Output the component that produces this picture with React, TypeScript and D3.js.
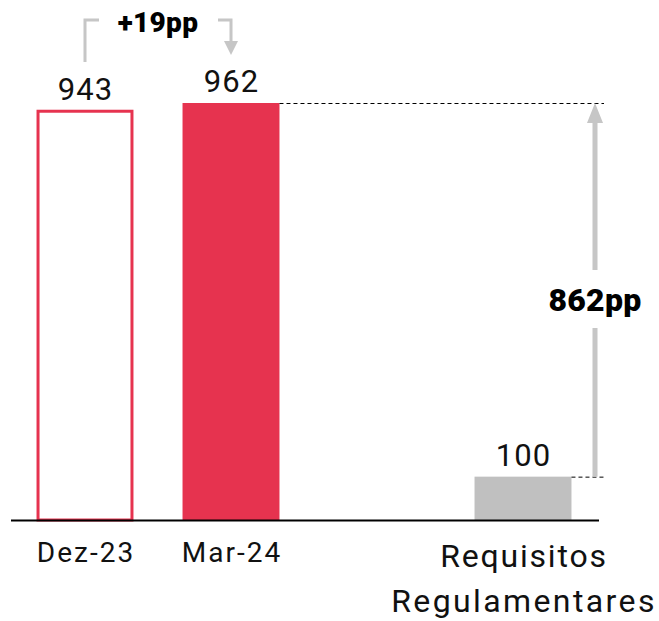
import React from "react";
import * as d3 from "d3";

const categories = ["Dez-23", "Mar-24", "", "Requisitos Regulamentares"];
const values = [943, 962, null, 100];
const valueLabels = ["943", "962", "", "100"];
const deltaLabel = "+19pp";
const gapLabel = "862pp";

const W = 659;
const H = 621;
const RED = "#e6334f";
const GREY_BAR = "#c0c0c0";
const GREY_LINE = "#c6c6c6";
const FONT = "Roboto, 'Open Sans', sans-serif";

export default function App() {
  const x = d3
    .scaleBand<string>()
    .domain(categories.map((c, i) => String(i)))
    .range([12, 596])
    .paddingInner(0.336)
    .paddingOuter(0.168);
  const y = d3.scaleLinear().domain([0, 962]).range([520, 103]);
  const bw = x.bandwidth();
  const cx = (i: number) => (x(String(i)) as number) + bw / 2;

  const arrowX = 595;
  const topY = y(values[1] as number);
  const reqY = y(values[3] as number);
  const c0 = cx(0);
  const c1 = cx(1);

  return (
    <svg
      width={W}
      height={H}
      style={{ position: "absolute", left: 0, top: 0 }}
      fontFamily={FONT}
    >
      {/* bars */}
      {values.map((v, i) => {
        if (v == null) return null;
        const x0 = x(String(i)) as number;
        if (i === 0)
          return (
            <rect
              key={i}
              x={x0 + 1.5}
              y={y(v)}
              width={bw - 3}
              height={y(0) - y(v)}
              fill="none"
              stroke={RED}
              strokeWidth={3}
            />
          );
        return (
          <rect
            key={i}
            x={x0}
            y={y(v)}
            width={bw}
            height={y(0) - y(v)}
            fill={i === 1 ? RED : GREY_BAR}
          />
        );
      })}
      {/* baseline */}
      <line x1={11} x2={599} y1={520.5} y2={520.5} stroke="#000" strokeWidth={1.8} />

      {/* value labels */}
      {values.map((v, i) =>
        v == null ? null : (
          <text
            key={"v" + i}
            x={cx(i) + 0.5}
            y={y(v) - 11}
            textAnchor="middle"
            fontSize={31}
            letterSpacing={1}
            fill="#111"
          >
            {valueLabels[i]}
          </text>
        )
      )}

      {/* category labels */}
      <text x={c0 + 1} y={562} textAnchor="middle" fontSize={28} letterSpacing={2} fill="#111">
        {categories[0]}
      </text>
      <text x={c1 + 1} y={562} textAnchor="middle" fontSize={28} letterSpacing={2} fill="#111">
        {categories[1]}
      </text>
      <text x={cx(3) + 1} y={567} textAnchor="middle" fontSize={32} letterSpacing={1.8} fill="#111">
        {categories[3].split(" ")[0]}
      </text>
      <text x={cx(3) + 1} y={612} textAnchor="middle" fontSize={32} letterSpacing={2.4} fill="#111">
        {categories[3].split(" ")[1]}
      </text>

      {/* dashed guides */}
      <line
        x1={(x("1") as number) + bw}
        x2={604}
        y1={topY + 0.5}
        y2={topY + 0.5}
        stroke="#000"
        strokeWidth={1}
        strokeDasharray="4,3"
      />
      <line
        x1={(x("3") as number) + bw}
        x2={604}
        y1={reqY + 0.5}
        y2={reqY + 0.5}
        stroke="#000"
        strokeWidth={1}
        strokeDasharray="4,3"
      />

      {/* vertical arrow */}
      <line x1={arrowX} x2={arrowX} y1={reqY} y2={328} stroke={GREY_LINE} strokeWidth={5} />
      <line x1={arrowX} x2={arrowX} y1={270} y2={120} stroke={GREY_LINE} strokeWidth={5} />
      <path
        d={`M${arrowX},${topY} L${arrowX + 8},${topY + 20} L${arrowX - 8},${topY + 20} Z`}
        fill={GREY_LINE}
      />
      <text
        x={arrowX}
        y={311}
        textAnchor="middle"
        fontSize={32}
        fontWeight={900}
        letterSpacing={0.3}
        fill="#000"
      >
        {gapLabel}
      </text>

      {/* bracket delta */}
      <path
        d={`M${c0},62 L${c0},20 L${c0 + 14},20`}
        fill="none"
        stroke={GREY_LINE}
        strokeWidth={3}
      />
      <path
        d={`M${c1 - 13},20 L${c1},20 L${c1},43`}
        fill="none"
        stroke={GREY_LINE}
        strokeWidth={3}
      />
      <path
        d={`M${c1 - 7},41 L${c1 + 7},41 L${c1},55 Z`}
        fill={GREY_LINE}
      />
      <text
        x={(c0 + c1) / 2}
        y={32}
        textAnchor="middle"
        fontSize={28}
        fontWeight={900}
        letterSpacing={0.3}
        fill="#000"
      >
        {deltaLabel}
      </text>
    </svg>
  );
}
